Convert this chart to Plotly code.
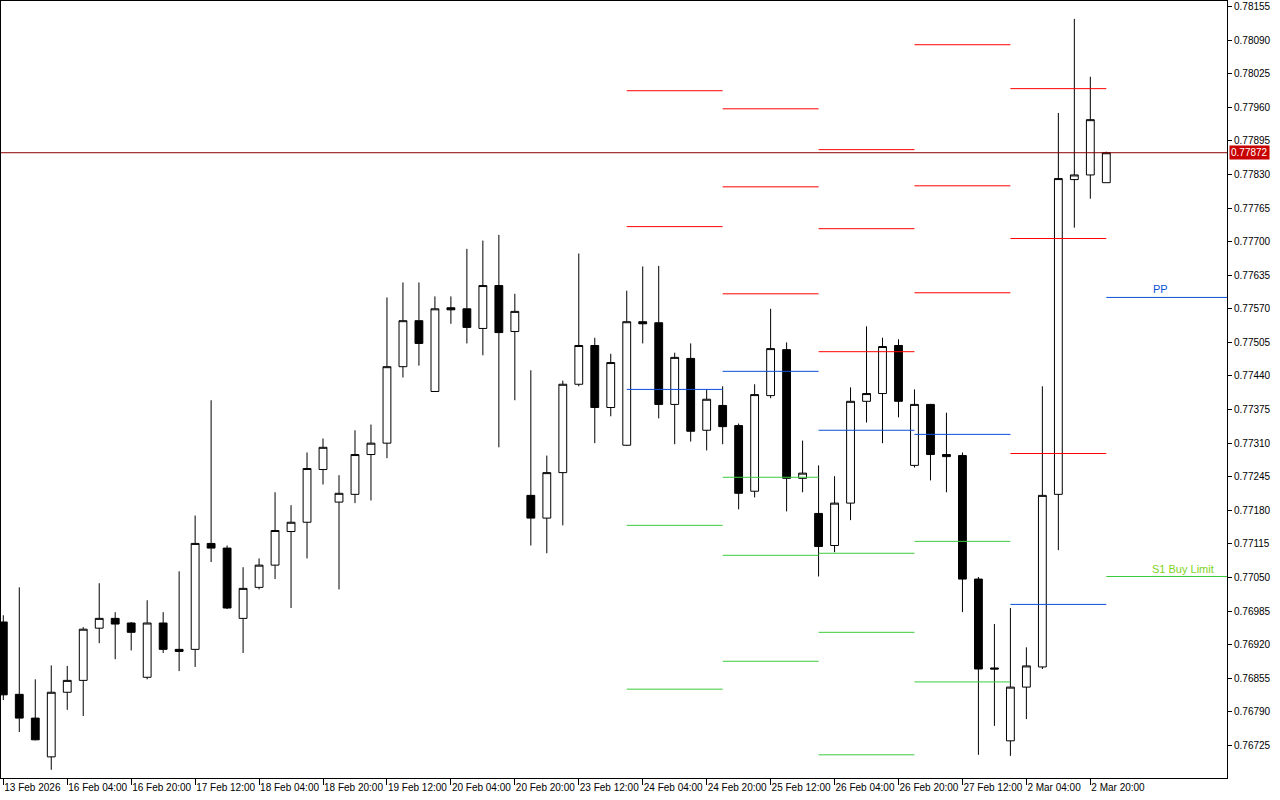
import plotly.graph_objects as go

# ---------------- data ----------------
opens = [0.76964, 0.76824, 0.76778, 0.76703, 0.76828, 0.76851, 0.76952, 0.76971, 0.76962, 0.76857,
         0.76962, 0.76911, 0.76911, 0.77116, 0.77107, 0.76971, 0.77031, 0.77074, 0.77139, 0.77157,
         0.77259, 0.77196, 0.77211, 0.77288, 0.77310, 0.77458, 0.77547, 0.77410, 0.77572, 0.77570,
         0.77532, 0.77615, 0.77526, 0.77209, 0.77165, 0.77253, 0.77424, 0.77499, 0.77379, 0.77306,
         0.77545, 0.77543, 0.77385, 0.77474, 0.77335, 0.77383, 0.77344, 0.77217, 0.77402, 0.77491,
         0.77242, 0.77174, 0.77112, 0.77194, 0.77391, 0.77406, 0.77499, 0.77267, 0.77385, 0.77288,
         0.77286, 0.77047, 0.76875, 0.76734, 0.76838, 0.76877, 0.77211, 0.77820, 0.77829, 0.77814]
highs = [0.76977, 0.77031, 0.76853, 0.76880, 0.76879, 0.76954, 0.77039, 0.76983, 0.76964, 0.77006,
         0.76983, 0.77062, 0.77170, 0.77393, 0.77112, 0.77070, 0.77087, 0.77215, 0.77190, 0.77292,
         0.77319, 0.77248, 0.77335, 0.77346, 0.77592, 0.77621, 0.77621, 0.77594, 0.77594, 0.77686,
         0.77702, 0.77713, 0.77599, 0.77451, 0.77286, 0.77431, 0.77677, 0.77514, 0.77483, 0.77605,
         0.77652, 0.77653, 0.77485, 0.77503, 0.77414, 0.77420, 0.77348, 0.77424, 0.77570, 0.77505,
         0.77315, 0.77267, 0.77246, 0.77418, 0.77536, 0.77514, 0.77511, 0.77414, 0.77386, 0.77369,
         0.77292, 0.77051, 0.76960, 0.76991, 0.76915, 0.77420, 0.77949, 0.78131, 0.78019, 0.77874]
lows = [0.76813, 0.76751, 0.76735, 0.76678, 0.76794, 0.76782, 0.76923, 0.76892, 0.76909, 0.76853,
        0.76904, 0.76869, 0.76877, 0.77080, 0.76989, 0.76904, 0.77027, 0.77047, 0.76991, 0.77087,
        0.77230, 0.77027, 0.77194, 0.77199, 0.77281, 0.77437, 0.77460, 0.77409, 0.77541, 0.77503,
        0.77480, 0.77302, 0.77393, 0.77112, 0.77097, 0.77151, 0.77420, 0.77310, 0.77362, 0.77305,
        0.77503, 0.77358, 0.77308, 0.77313, 0.77296, 0.77308, 0.77182, 0.77205, 0.77397, 0.77178,
        0.77215, 0.77052, 0.77099, 0.77161, 0.77350, 0.77310, 0.77360, 0.77263, 0.77238, 0.77215,
        0.76983, 0.76707, 0.76763, 0.76705, 0.76776, 0.76873, 0.77103, 0.77727, 0.77783, 0.77814]
closes = [0.76823, 0.76778, 0.76736, 0.76828, 0.76851, 0.76950, 0.76971, 0.76960, 0.76944, 0.76962,
          0.76911, 0.76907, 0.77116, 0.77107, 0.76991, 0.77029, 0.77074, 0.77141, 0.77157, 0.77261,
          0.77302, 0.77213, 0.77288, 0.77310, 0.77458, 0.77547, 0.77503, 0.77570, 0.77568, 0.77534,
          0.77615, 0.77524, 0.77565, 0.77165, 0.77253, 0.77424, 0.77499, 0.77379, 0.77466, 0.77545,
          0.77541, 0.77385, 0.77476, 0.77333, 0.77395, 0.77342, 0.77213, 0.77404, 0.77493, 0.77242,
          0.77252, 0.77110, 0.77194, 0.77391, 0.77406, 0.77497, 0.77391, 0.77385, 0.77288, 0.77284,
          0.77047, 0.76873, 0.76873, 0.76838, 0.76879, 0.77209, 0.77822, 0.77829, 0.77936, 0.77872]

tick_idx = [0, 4, 8, 12, 16, 20, 24, 28, 32, 36, 40, 44, 48, 52, 56, 60, 64, 68]
tick_labels = ["13 Feb 2026", "16 Feb 04:00", "16 Feb 20:00", "17 Feb 12:00", "18 Feb 04:00",
               "18 Feb 20:00", "19 Feb 12:00", "20 Feb 04:00", "20 Feb 20:00", "23 Feb 12:00",
               "24 Feb 04:00", "24 Feb 20:00", "25 Feb 12:00", "26 Feb 04:00", "26 Feb 20:00",
               "27 Feb 12:00", "2 Mar 04:00", "2 Mar 20:00"]

# daily pivot levels (day start bar index -> next day start)
day_start = [39, 45, 51, 57, 63]
day_end = [45, 51, 57, 63, 69]
R3 = [None, 0.77957, 0.77878, 0.78081, 0.77996]
R2 = [0.77992, 0.77806, 0.77725, 0.77808, 0.77706]
R1 = [0.77729, 0.77599, 0.77487, 0.77601, 0.77290]
PP = [0.77414, 0.77449, 0.77335, 0.77327, 0.76998]
S1 = [0.77151, 0.77244, 0.77097, 0.77120, None]
S2 = [0.76834, 0.77093, 0.76944, 0.76848, None]
S3 = [None, 0.76888, 0.76707, None, None]

cur_day_start = 69
cur_PP = 0.77592
cur_S1 = 0.77052
current_price = 0.77872

# ---------------- styling ----------------
X_MIN, X_MAX = -0.144, 76.55
Y_MIN, Y_MAX = 0.766621, 0.781656
RED, BLUE, GREEN = "#FF0000", "#0A50D8", "#3CCB3C"
FONT = "Liberation Sans"

fig = go.Figure()

fig.add_trace(go.Candlestick(
    x=list(range(len(opens))), open=opens, high=highs, low=lows, close=closes,
    increasing=dict(line=dict(color="black", width=1), fillcolor="white"),
    decreasing=dict(line=dict(color="black", width=1), fillcolor="black"),
    whiskerwidth=0, showlegend=False, hoverinfo="skip"))


def seg_trace(levels, color):
    xs, ys = [], []
    for s, e, v in zip(day_start, day_end, levels):
        if v is None:
            continue
        xs += [s, e, None]
        ys += [v, v, None]
    return go.Scatter(x=xs, y=ys, mode="lines", line=dict(color=color, width=1),
                      showlegend=False, hoverinfo="skip")


for lv in (R3, R2, R1):
    fig.add_trace(seg_trace(lv, RED))
fig.add_trace(seg_trace(PP, BLUE))
for lv in (S1, S2, S3):
    fig.add_trace(seg_trace(lv, GREEN))

# current day levels extend to the right edge
fig.add_trace(go.Scatter(x=[cur_day_start, X_MAX], y=[cur_PP, cur_PP], mode="lines",
                         line=dict(color=BLUE, width=1), showlegend=False, hoverinfo="skip"))
fig.add_trace(go.Scatter(x=[cur_day_start, X_MAX], y=[cur_S1, cur_S1], mode="lines",
                         line=dict(color=GREEN, width=1), showlegend=False, hoverinfo="skip"))

fig.add_annotation(x=72.36, y=cur_PP, text="PP", showarrow=False, xanchor="center",
                   yanchor="bottom", yshift=0, font=dict(family=FONT, size=11, color=BLUE))
fig.add_annotation(x=73.8, y=cur_S1, text="S1 Buy Limit", showarrow=False, xanchor="center",
                   yanchor="bottom", yshift=0, font=dict(family=FONT, size=11, color="#7ED321"))

# current price line + label
fig.add_shape(type="line", xref="paper", x0=0, x1=1, y0=current_price, y1=current_price,
              line=dict(color="#8B0000", width=1))
fig.add_annotation(xref="paper", x=1, y=current_price, text="0.77872", showarrow=False,
                   xanchor="left", yanchor="middle", xshift=2,
                   bgcolor="#C80000", borderpad=1,
                   font=dict(family=FONT, size=10, color="white"))

fig.update_layout(
    width=1280, height=800,
    margin=dict(l=1, r=53, t=1, b=22, autoexpand=False),
    paper_bgcolor="white", plot_bgcolor="white",
    showlegend=False,
    xaxis=dict(range=[X_MIN, X_MAX], rangeslider=dict(visible=False), automargin=False,
               tickmode="array", tickvals=tick_idx, ticktext=tick_labels, tickangle=0,
               ticks="outside", ticklen=6, tickcolor="black", tickwidth=1,
               ticklabelposition="outside right",
               showgrid=False, zeroline=False, showline=True, linecolor="black",
               linewidth=1, mirror=True,
               tickfont=dict(family=FONT, size=10, color="black")),
    yaxis=dict(range=[Y_MIN, Y_MAX], side="right", tick0=0.76725, dtick=0.00065, automargin=False,
               tickformat=".5f", ticks="outside", ticklen=4, tickcolor="black",
               showgrid=False, zeroline=False, showline=True, linecolor="black",
               linewidth=1, mirror=True,
               tickfont=dict(family=FONT, size=10, color="black")),
)

fig.write_html("out.html", config={"displayModeBar": False},
               post_script="document.body.style.margin='0';document.body.style.overflow='hidden';")
